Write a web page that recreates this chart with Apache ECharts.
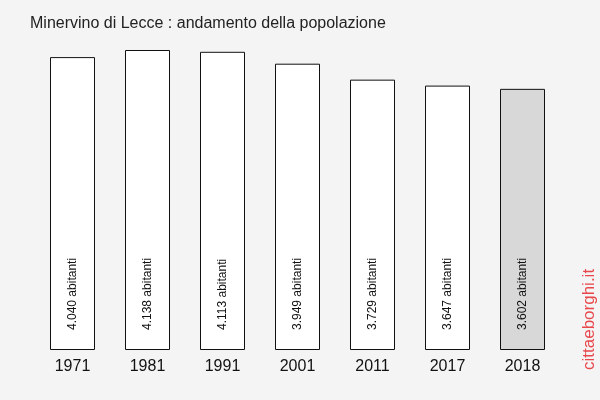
<!DOCTYPE html>
<html><head><meta charset="utf-8">
<script src="https://cdn.jsdelivr.net/npm/echarts@6/dist/echarts.min.js"></script>
<style>html,body{margin:0;padding:0;background:#f4f4f4}#c{width:600px;height:400px}</style>
</head><body><div id="c"></div>
<script>
var years = ['1971','1981','1991','2001','2011','2017','2018'];
var population = [4040, 4138, 4113, 3949, 3729, 3647, 3602];
var labels = ['4.040 abitanti','4.138 abitanti','4.113 abitanti','3.949 abitanti','3.729 abitanti','3.647 abitanti','3.602 abitanti'];
var chart = echarts.init(document.getElementById('c'));
chart.setOption({
  backgroundColor: '#f4f4f4',
  animation: false,
  title: {text: 'Minervino di Lecce : andamento della popolazione', left: 30, top: 16, padding: 0,
    textStyle: {fontFamily: 'Liberation Sans, Arial', fontSize: 16, fontWeight: 'normal', color: '#222'}},
  grid: {left: 35, right: 40, top: 50, bottom: 50},
  xAxis: {type: 'category', data: years, axisLine: {show: false}, axisTick: {show: false},
    axisLabel: {fontFamily: 'Liberation Sans, Arial', fontSize: 16, color: '#111', margin: 9}},
  yAxis: {type: 'value', min: 0, max: 4138, show: false, splitLine: {show: false}},
  series: [{type: 'bar', barWidth: 45,
    data: population.map(function(v, i){
      return {value: v, itemStyle: {color: i === population.length - 1 ? '#d8d8d8' : '#ffffff', borderColor: '#111', borderWidth: 1}};
    }),
    label: {show: true, position: 'insideBottom', rotate: 90, align: 'left', verticalAlign: 'middle', distance: 20,
      fontFamily: 'Liberation Sans, Arial', fontSize: 12, color: '#111',
      formatter: function(p){ return labels[p.dataIndex]; }}
  }],
  graphic: [{type: 'text', x: 589, y: 370, rotation: Math.PI/2,
    style: {text: 'cittaeborghi.it', fill: '#e8474b', font: '17px "Liberation Sans", Arial', textAlign: 'left', textVerticalAlign: 'middle'}}]
});
</script></body></html>
